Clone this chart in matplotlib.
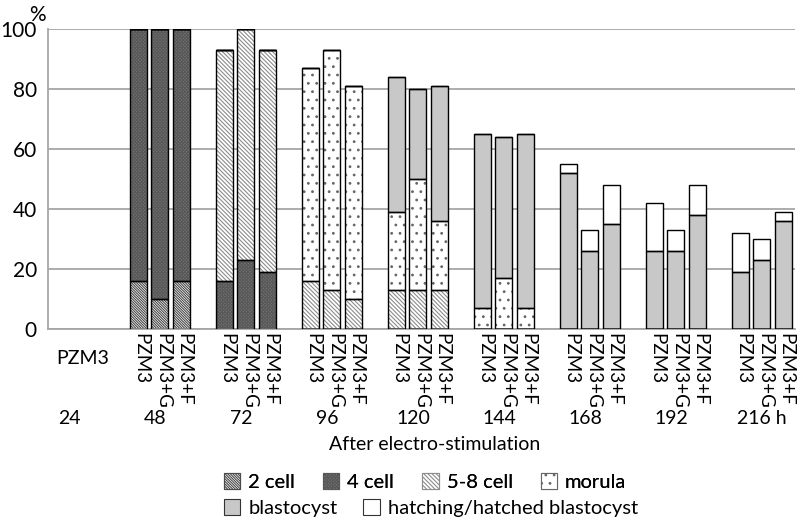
import matplotlib.pyplot as plt
from matplotlib.patches import Rectangle
from matplotlib.transforms import blended_transform_factory

plt.rcParams['font.family'] = ['Lato', 'DejaVu Sans']
plt.rcParams['hatch.linewidth'] = 0.8

# Data: 8 time points (48..216 h) x 3 media
times = ["24", "48", "72", "96", "120", "144", "168", "192", "216 h"]
media = ["PZM3", "PZM3+G", "PZM3+F"]
stages = ["2 cell", "4 cell", "5-8 cell", "morula", "blastocyst",
          "hatching/hatched blastocyst"]

two_cell = [16, 10, 16,  0, 0, 0,  0, 0, 0,  0, 0, 0,  0, 0, 0,  0, 0, 0,  0, 0, 0,  0, 0, 0]
four_cell = [84, 90, 84,  16, 23, 19,  0, 0, 0,  0, 0, 0,  0, 0, 0,  0, 0, 0,  0, 0, 0,  0, 0, 0]
five_eight = [0, 0, 0,  77, 77, 74,  16, 13, 10,  13, 13, 13,  0, 0, 0,  0, 0, 0,  0, 0, 0,  0, 0, 0]
morula = [0, 0, 0,  0, 0, 0,  71, 80, 71,  26, 37, 23,  7, 17, 7,  0, 0, 0,  0, 0, 0,  0, 0, 0]
blastocyst = [0, 0, 0,  0, 0, 0,  0, 0, 0,  45, 30, 45,  58, 47, 58,  52, 26, 35,  26, 26, 38,  19, 23, 36]
hatched = [0, 0, 0,  0, 0, 0,  0, 0, 0,  0, 0, 0,  0, 0, 0,  3, 7, 13,  16, 7, 10,  13, 7, 3]

series = [two_cell, four_cell, five_eight, morula, blastocyst, hatched]
# (face, hatch, hatch colour)
styles = [
    ("white", "\\" * 13, "#4a4a4a"),
    ("#757575", "x" * 10, "#585858"),
    ("white", "\\" * 8, "#8c8c8c"),
    ("white", "..", "#666666"),
    ("#c8c8c8", None, None),
    ("white", None, None),
]

fig = plt.figure(figsize=(7.97, 5.21), dpi=100)
ax = fig.add_axes([48 / 797, 192 / 521, 747 / 797, 300 / 521])

# bar positions: 3 bars per time point, one empty slot between groups
xs = [4 * (i // 3) + (i % 3) for i in range(len(two_cell))]
width = 0.79

bottom = [0] * len(xs)
for vals, (fc, h, hc) in zip(series, styles):
    ax.bar(xs, vals, width, bottom=bottom, color=fc, hatch=h,
           edgecolor=hc if hc else fc, linewidth=0, zorder=2)
    ax.bar(xs, vals, width, bottom=bottom, fill=False,
           edgecolor="black", linewidth=1.0, zorder=3)
    bottom = [b + v for b, v in zip(bottom, vals)]

ax.set_xlim(-4.2, 30.55)
ax.set_ylim(0, 100)
ax.set_yticks([0, 20, 40, 60, 80, 100])
ax.yaxis.grid(True, color="#a6a6a6", linewidth=1.3, zorder=0)
ax.set_axisbelow(True)
ax.tick_params(axis="y", length=0, labelsize=15, pad=8)
ax.set_xticks([])
for s in ["top", "right"]:
    ax.spines[s].set_visible(False)
for s in ["left", "bottom"]:
    ax.spines[s].set_color("#a6a6a6")
    ax.spines[s].set_linewidth(1.3)

trans = blended_transform_factory(ax.transData, ax.transAxes)
fig.text(37 / 797, 1 - 15 / 521, "%", fontsize=15, ha="center", va="center")

# rotated medium labels under each bar
for i, x in enumerate(xs):
    ax.text(x + 0.12, -0.012, media[i % 3], transform=trans, rotation=-90,
            ha="center", va="top", fontsize=13.5)
# the 24 h group only has a horizontal label
ax.text(-2.6, -0.097, media[0], transform=trans, ha="center", va="center",
        fontsize=14)

# time labels
for k, t in enumerate(times):
    cx = 4 * (k - 1) + 1 - 0.2
    if k == len(times) - 1:
        cx += 0.2
    ax.text(cx, -0.297, t, transform=trans, ha="center", va="center",
            fontsize=14)
ax.text(435 / 797, 1 - 445 / 521, "After electro-stimulation",
        transform=fig.transFigure, ha="center", va="center", fontsize=14)

# legend (two rows, as in the original)
handles = []
for (fc, h, hc) in styles:
    handles.append(Rectangle((0, 0), 1, 1, facecolor=fc, hatch=h,
                             edgecolor=hc if hc else "#333333",
                             linewidth=0.8))

leg1 = fig.legend(handles[:4], stages[:4], loc="center left",
                  bbox_to_anchor=(224 / 797, 1 - 482 / 521), ncol=4,
                  frameon=False, fontsize=14.5, handlelength=0.8,
                  handleheight=0.8, handletextpad=0.4, columnspacing=1.4,
                  borderpad=0, borderaxespad=0)
leg2 = fig.legend(handles[4:], stages[4:], loc="center left",
                  bbox_to_anchor=(224 / 797, 1 - 508 / 521), ncol=2,
                  frameon=False, fontsize=14.5, handlelength=0.8,
                  handleheight=0.8, handletextpad=0.4, columnspacing=1.3,
                  borderpad=0, borderaxespad=0)
fig.add_artist(leg1)

fig.savefig("out.png", dpi=100)
